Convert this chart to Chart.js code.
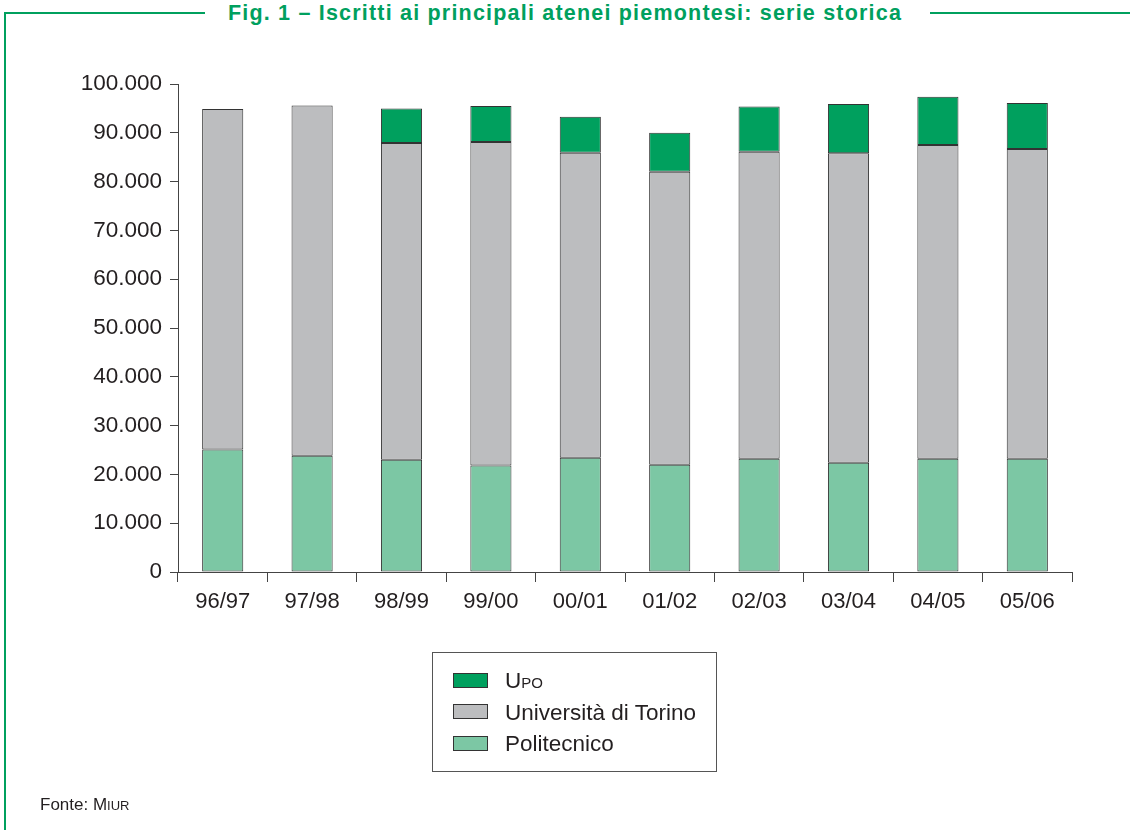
<!DOCTYPE html>
<html><head><meta charset="utf-8">
<script src="https://cdn.jsdelivr.net/npm/chart.js@4"></script>
<style>
html,body{margin:0;padding:0;background:#fff;}
body{width:1130px;height:830px;position:relative;overflow:hidden;font-family:"Liberation Sans",Arial,sans-serif;color:#231f20;}
#frameTop1{position:absolute;left:5px;top:12px;width:200px;height:2px;background:#00a05e;}
#frameTop2{position:absolute;left:930px;top:12px;width:200px;height:2px;background:#00a05e;}
#frameLeft{position:absolute;left:4px;top:12px;width:2px;height:818px;background:#00a05e;}
#title{position:absolute;left:0;width:1130px;top:0px;text-align:center;font-weight:bold;font-size:21.5px;letter-spacing:1.2px;color:#00a05e;line-height:26px;}
#c{position:absolute;left:0;top:0;}
#legend{position:absolute;left:432px;top:652px;width:285px;height:120px;border:1px solid #555;box-sizing:border-box;}
.li{position:absolute;left:20px;height:20px;font-size:22.5px;line-height:20px;white-space:nowrap;}
.sw{display:inline-block;width:35px;height:15px;border:1px solid #333;box-sizing:border-box;vertical-align:middle;margin-right:17px;position:relative;top:-2px;}
.sc{font-size:15px;}
#fonte{position:absolute;left:40px;top:795px;font-size:17px;}
</style></head><body>
<div id="frameTop1"></div><div id="frameTop2"></div><div id="frameLeft"></div>
<div id="title">Fig. 1 – Iscritti ai principali atenei piemontesi: serie storica</div>
<canvas id="c" width="1130" height="830"></canvas>
<div id="legend"></div>
<div id="fonte">Fonte: M<span style="font-size:13px">IUR</span></div>
<script>
const categories = ["96/97","97/98","98/99","99/00","00/01","01/02","02/03","03/04","04/05","05/06"];
const politecnico = [25100,23800,23000,21800,23400,22000,23200,22400,23200,23200];
const torino = [69800,71800,64900,66300,62500,60000,62900,63400,64300,63500];
const upo = [0,0,7100,7400,7400,8000,9300,10100,9900,9400];
const yTicks = [0,10000,20000,30000,40000,50000,60000,70000,80000,90000,100000];

const colPoli = "#7cc7a4", colTor = "#bcbdbf", colUpo = "#00a05e";
const ink = "#231f20";

const chart = new Chart(document.getElementById("c"), {
  type: "bar",
  data: {
    labels: categories,
    datasets: [
      {label: "Politecnico", data: politecnico, backgroundColor: colPoli, borderColor: "#333", borderWidth: 1, borderSkipped: false},
      {label: "Università di Torino", data: torino, backgroundColor: colTor, borderColor: "#333", borderWidth: 1, borderSkipped: false},
      {label: "UPO", data: upo, backgroundColor: colUpo, borderColor: "#333", borderWidth: 1, borderSkipped: false}
    ]
  },
  options: {
    responsive: false, animation: false,
    layout: {padding: {top: 84, right: 58, bottom: 198, left: 0}},
    datasets: {bar: {barPercentage: 0.46, categoryPercentage: 1}},
    plugins: {legend: {display: false}, tooltip: {enabled: false}},
    scales: {
      x: {
        stacked: true,
        grid: {display: true, drawOnChartArea: false, drawTicks: true, tickLength: 10, color: "#444", offset: true},
        border: {display: true, color: "#444", width: 1},
        ticks: {font: {family: "Liberation Sans, Arial", size: 22}, color: ink, padding: 7, maxRotation: 0},
        afterFit: s => { s.height = 60; }
      },
      y: {
        stacked: true, min: 0, max: 100000,
        afterBuildTicks: s => { s.ticks = yTicks.map(v => ({value: v})); },
        grid: {display: true, drawOnChartArea: false, drawTicks: true, tickLength: 8, color: "#444"},
        border: {display: true, color: "#444", width: 1},
        ticks: {font: {family: "Liberation Sans, Arial", size: 22.5}, color: ink, padding: 8,
          callback: v => v === 0 ? "0" : v.toLocaleString("it-IT").replace(/,/g,".")},
        afterFit: s => { s.width = 178; }
      }
    }
  }
});

// HTML legend built from the chart's datasets (reverse order, as in the reference)
const lg = document.getElementById("legend");
const ds = chart.data.datasets.slice().reverse();
ds.forEach((d, i) => {
  const div = document.createElement("div");
  div.className = "li";
  div.style.top = (18 + i * 31.5) + "px";
  const sw = document.createElement("span");
  sw.className = "sw"; sw.style.background = d.backgroundColor;
  div.appendChild(sw);
  const t = document.createElement("span");
  if (d.label === "UPO") { t.innerHTML = 'U<span class="sc">PO</span>'; } else { t.textContent = d.label; }
  div.appendChild(t);
  lg.appendChild(div);
});
</script>
</body></html>
